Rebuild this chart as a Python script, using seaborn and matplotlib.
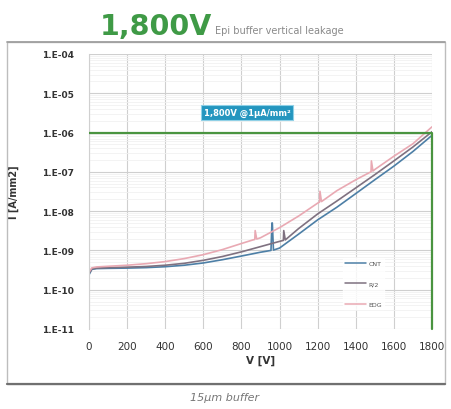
import numpy as np
import pandas as pd
import matplotlib
matplotlib.use("Agg")
import matplotlib.pyplot as plt
from matplotlib.patches import Rectangle
from matplotlib.lines import Line2D
import seaborn as sns

# Vertical leakage current density vs. applied voltage for three wafer positions
v_cnt = [0, 15, 40, 100, 200, 300, 400, 500, 600, 700, 800, 900, 955, 960, 962, 968, 1000,
         1100, 1200, 1300, 1400, 1500, 1600, 1700, 1800]
i_cnt = [2.4e-10, 3.3e-10, 3.45e-10, 3.5e-10, 3.55e-10, 3.65e-10, 3.85e-10, 4.2e-10, 4.8e-10,
         5.8e-10, 7.2e-10, 9.0e-10, 1.0e-9, 5.0e-9, 5.0e-9, 1.02e-9, 1.15e-9,
         2.6e-9, 6.0e-9, 1.25e-8, 2.8e-8, 6.3e-8, 1.4e-7, 3.3e-7, 8.5e-7]

v_r2 = [0, 15, 40, 100, 200, 300, 400, 500, 600, 700, 800, 900, 1000, 1020, 1022, 1030,
        1100, 1200, 1300, 1400, 1500, 1600, 1700, 1800]
i_r2 = [2.6e-10, 3.4e-10, 3.55e-10, 3.65e-10, 3.75e-10, 3.9e-10, 4.2e-10, 4.7e-10, 5.6e-10,
        7.0e-10, 9.2e-10, 1.25e-9, 1.7e-9, 1.8e-9, 3.2e-9, 1.85e-9,
        3.6e-9, 8.5e-9, 1.8e-8, 3.9e-8, 8.5e-8, 1.9e-7, 4.3e-7, 1.05e-6]

v_edg = [0, 15, 40, 100, 200, 300, 400, 500, 600, 700, 800, 860, 870, 872, 880, 900, 1000,
         1100, 1200, 1210, 1212, 1220, 1300, 1400, 1470, 1480, 1482, 1490, 1500, 1600, 1700, 1800]
i_edg = [2.8e-10, 3.6e-10, 3.8e-10, 3.95e-10, 4.2e-10, 4.6e-10, 5.2e-10, 6.2e-10, 7.8e-10,
         1.05e-9, 1.5e-9, 1.85e-9, 1.9e-9, 3.2e-9, 1.95e-9, 2.1e-9, 3.8e-9,
         7.5e-9, 1.6e-8, 1.7e-8, 3.2e-8, 1.75e-8, 3.3e-8, 6.3e-8, 9.5e-8, 1.0e-7, 1.9e-7, 1.05e-7,
         1.15e-7, 2.5e-7, 5.2e-7, 1.4e-6]

series_names = ["CNT", "R/2", "EDG"]
spec_voltage = 1800
spec_current = 1e-6
x_ticks = [0, 200, 400, 600, 800, 1000, 1200, 1400, 1600, 1800]
y_ticks = [1e-4, 1e-5, 1e-6, 1e-7, 1e-8, 1e-9, 1e-10, 1e-11]
y_ticklabels = ["1.E-04", "1.E-05", "1.E-06", "1.E-07", "1.E-08", "1.E-09", "1.E-10", "1.E-11"]

df = pd.concat([
    pd.DataFrame({"V": v_cnt, "I": i_cnt, "series": "CNT"}),
    pd.DataFrame({"V": v_r2, "I": i_r2, "series": "R/2"}),
    pd.DataFrame({"V": v_edg, "I": i_edg, "series": "EDG"}),
], ignore_index=True)

sns.set_theme(style="white")
plt.rcParams["font.family"] = ["DejaVu Sans"]

fig = plt.figure(figsize=(4.51, 4.10), dpi=100)
ax = fig.add_axes([89 / 451, 1 - 330 / 410, (432 - 89) / 451, (330 - 55) / 410])

palette = {"CNT": "#4d7fa6", "R/2": "#7f7180", "EDG": "#e9a9b3"}
sns.lineplot(data=df, x="V", y="I", hue="series", hue_order=series_names,
             palette=palette, estimator=None, sort=False, linewidth=1.2,
             legend=False, ax=ax)

ax.set_yscale("log")
ax.set_xlim(0, 1800)
ax.set_ylim(1e-11, 1e-4)

# grid: major decades and verticals, faint minor lines within each decade
ax.set_axisbelow(True)
ax.grid(True, which="major", axis="both", color="#cfcfcf", linewidth=0.8)
ax.grid(True, which="minor", axis="y", color="#f1f1f1", linewidth=0.6)
ax.yaxis.set_minor_locator(matplotlib.ticker.LogLocator(base=10, subs=np.arange(2, 10)))
ax.yaxis.set_minor_formatter(matplotlib.ticker.NullFormatter())

ax.set_xticks(x_ticks)
ax.set_xticklabels([str(t) for t in x_ticks], fontsize=7.5, color="#333333")
ax.set_yticks(y_ticks)
ax.set_yticklabels(y_ticklabels, fontsize=6.5, color="#333333", fontweight="bold")
ax.tick_params(axis="both", which="major", length=3, color="#cccccc", pad=8)
ax.tick_params(axis="y", which="minor", length=0)
ax.tick_params(axis="x", pad=6)

for side in ["top", "right", "bottom"]:
    ax.spines[side].set_visible(False)
ax.spines["left"].set_color("#d0d0d0")
ax.spines["left"].set_linewidth(0.8)

ax.set_xlabel("V [V]", fontsize=7.5, fontweight="bold", color="#333333", labelpad=2)
ax.set_ylabel("I [A/mm2]", fontsize=7, fontweight="bold", color="#333333", labelpad=4)
ax.yaxis.set_label_coords(-0.205, 0.5)

# breakdown specification lines
green = "#4a9440"
ax.plot([0, spec_voltage], [spec_current, spec_current], color=green, lw=1.6, zorder=5)
ax.plot([spec_voltage, spec_voltage], [1e-11, spec_current], color=green, lw=1.6, zorder=5,
        clip_on=False)
ax.text(830, 3.2e-6, "1,800V @1µA/mm²", fontsize=6, color="white", fontweight="bold",
        ha="center", va="center", zorder=6,
        bbox=dict(boxstyle="square,pad=0.35", facecolor="#2496bf", edgecolor="#8fd0e6", lw=0.8))

# legend
handles = [Line2D([0], [0], color=palette[n], lw=1.1) for n in series_names]
leg = ax.legend(handles, series_names, loc="center", bbox_to_anchor=(0.8, 0.165),
                fontsize=4.5, frameon=True, facecolor="white", edgecolor="white",
                handlelength=3.4, labelspacing=2.4, handletextpad=0.3)
for t in leg.get_texts():
    t.set_color("#555555")

# outer frame and headings
fig.patches.append(Rectangle((7 / 451, 1 - 385 / 410), (445 - 7) / 451, (385 - 43) / 410,
                             transform=fig.transFigure, fill=False, edgecolor="#bdbdbd",
                             lw=1.0, zorder=0))
fig.lines.append(Line2D([7 / 451, 445 / 451], [1 - 385 / 410, 1 - 385 / 410],
                        transform=fig.transFigure, color="#707070", lw=1.6))
fig.lines.append(Line2D([7 / 451, 445 / 451], [1 - 43 / 410, 1 - 43 / 410],
                        transform=fig.transFigure, color="#a0a0a0", lw=1.3))

fig.text(100 / 451, 1 - 35 / 410, "1,800V", fontsize=20.5, fontweight="bold", color="#3f9a46",
         ha="left", va="baseline")
fig.text(215 / 451, 1 - 34 / 410, "Epi buffer vertical leakage", fontsize=7, color="#8a8a8a",
         ha="left", va="baseline")
fig.text(225 / 451, 1 - 398 / 410, "15µm buffer", fontsize=8, color="#777777",
         style="italic", ha="center", va="center")

fig.savefig("out.png", dpi=100)
